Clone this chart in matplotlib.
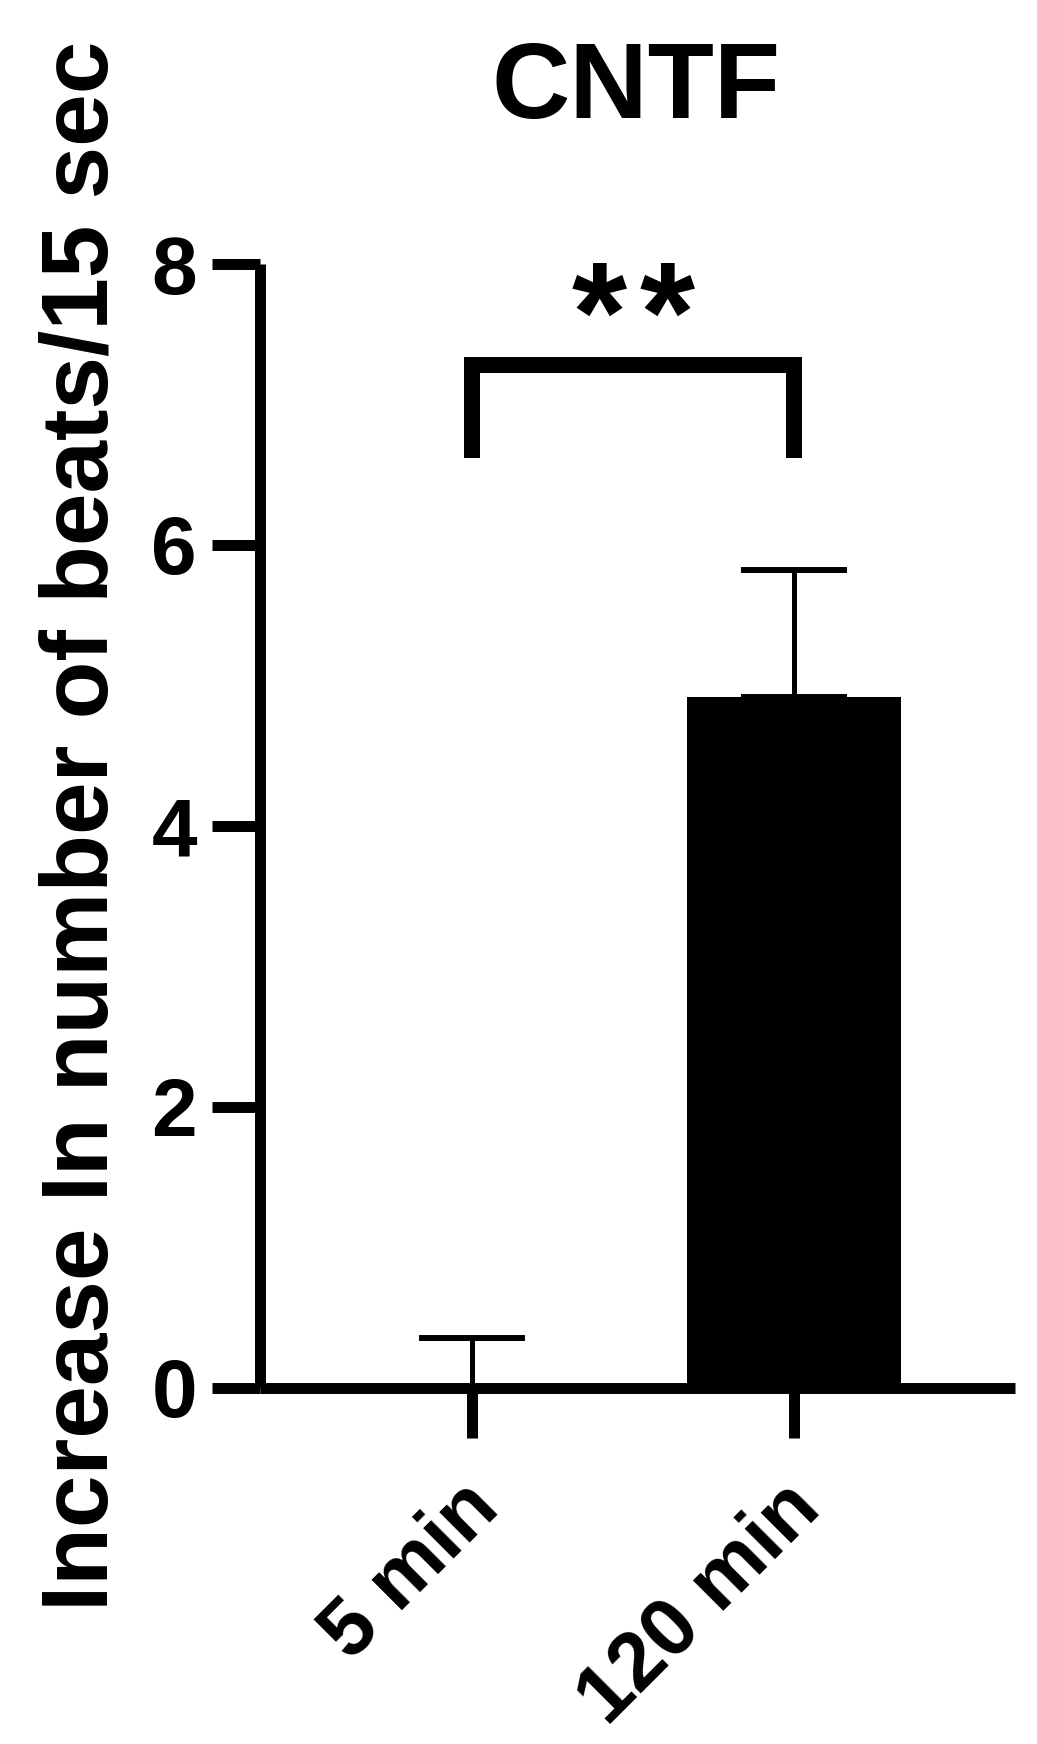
import numpy as np
import matplotlib
matplotlib.use('Agg')
import matplotlib.pyplot as plt
import matplotlib.transforms as mtransforms

# --- data ---
categories = ['5 min', '120 min']
means = [0.0, 4.92]
sem = [0.35, 0.90]
yticks = [0, 2, 4, 6, 8]

# significance bracket between the two groups
bracket_y = [6.62, 7.28]
star_y = 7.10
star_gap = 0.106

plt.rcParams['font.family'] = ['Liberation Sans', 'DejaVu Sans']
plt.rcParams['font.weight'] = 'bold'

fig = plt.figure(figsize=(10.37, 17.44), dpi=100)
ax = fig.add_axes([0.2507, 0.2044, 0.7281, 0.6442])

x = np.arange(len(categories))
ax.bar(x, means, width=0.665, color='black', zorder=2)
ax.errorbar(x, means, yerr=[np.zeros(len(sem)), sem], fmt='none', ecolor='black',
            elinewidth=3.6, capsize=38.5, capthick=4.3, zorder=1)

# bracket + stars
ax.plot([x[0], x[0], x[1], x[1]], [bracket_y[0], bracket_y[1], bracket_y[1], bracket_y[0]],
        color='black', lw=11.5, solid_joinstyle='miter', solid_capstyle='butt', clip_on=False)
mid = (x[0] + x[1]) / 2
for dx in (-star_gap, star_gap):
    ax.text(mid + dx, star_y, '*', ha='center', va='bottom', fontsize=102,
            fontweight='bold')

ax.set_xlim(-0.658, 1.686)
ax.set_ylim(0, 8)
ax.set_yticks(yticks)
ax.set_xticks(x)
ax.set_xticklabels(categories, rotation=45, ha='right', va='top', rotation_mode='anchor')

for side in ['top', 'right']:
    ax.spines[side].set_visible(False)
for side in ['left', 'bottom']:
    ax.spines[side].set_linewidth(7.9)
    ax.spines[side].set_capstyle('butt')

ax.tick_params(axis='y', length=34.6, width=7.9, pad=10.8, labelsize=59)
ax.tick_params(axis='x', length=36, width=7.9, pad=23, labelsize=59)

# nudge rotated labels slightly left
shift = mtransforms.ScaledTranslation(-12 / 100, 0, fig.dpi_scale_trans)
for lab in ax.get_xticklabels():
    lab.set_transform(lab.get_transform() + shift)

ax.set_ylabel('Increase In number of beats/15 sec', fontsize=68, fontweight='bold')
ax.yaxis.set_label_coords(-0.176, 0.5)

fig.text(0.6133, 1 - 118 / 1744, 'CNTF', ha='center', va='baseline', fontsize=78,
         fontweight='bold')

fig.savefig('out.png', dpi=100, facecolor='white')
